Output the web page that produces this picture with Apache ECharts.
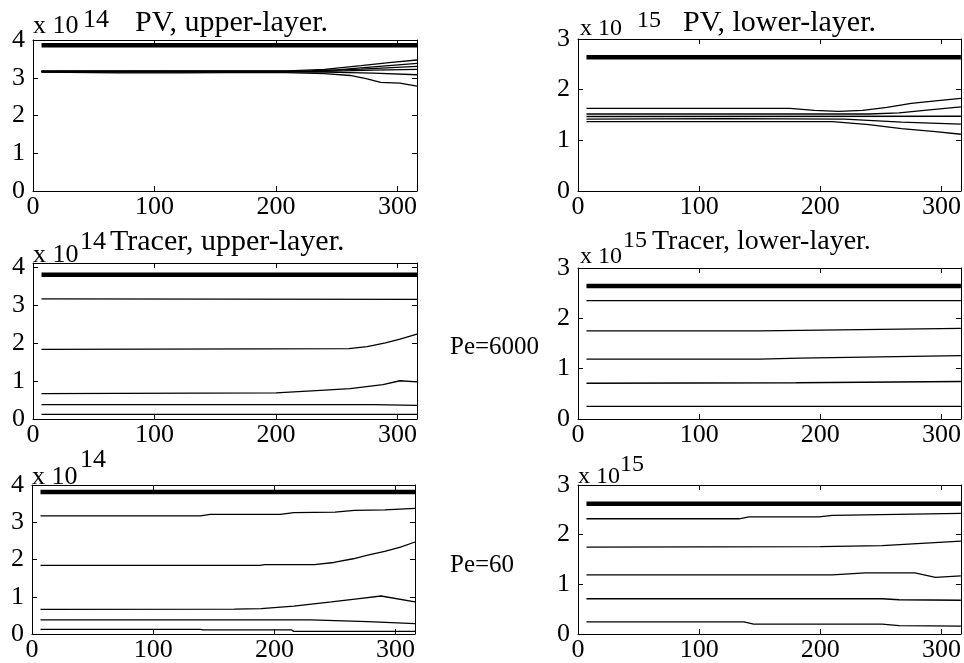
<!DOCTYPE html>
<html>
<head>
<meta charset="utf-8">
<script src="https://cdn.jsdelivr.net/npm/echarts@6/dist/echarts.min.js"></script>
<style>
html,body{margin:0;padding:0;background:#fff;}
#c{width:964px;height:663px;}
</style>
</head>
<body>
<div id="c"></div>
<script>
// ---------- data (x = time, y in units of 10^14 / 10^15) ----------
const xTicks = [0, 100, 200, 300];
const yTicksUpper = [0, 1, 2, 3, 4];
const yTicksLower = [0, 1, 2, 3];

// Panel 1: PV, upper-layer (x 10^14)
const pvUpperThick = [[7,3.86],[316,3.86]];
const pvUpper1 = [[7,3.18],[210,3.18],[240,3.22],[270,3.32],[295,3.41],[316,3.47]];
const pvUpper2 = [[7,3.17],[220,3.17],[250,3.21],[280,3.29],[316,3.38]];
const pvUpper3 = [[7,3.17],[230,3.18],[270,3.23],[316,3.30]];
const pvUpper4 = [[7,3.16],[240,3.17],[280,3.20],[316,3.22]];
const pvUpper5 = [[7,3.15],[240,3.15],[280,3.12],[316,3.08]];
const pvUpper6 = [[7,3.15],[70,3.13],[120,3.13],[200,3.14],[240,3.11],[261,3.06],[275,2.97],[286,2.88],[302,2.86],[316,2.78]];

// Panel 2: PV, lower-layer (x 10^15)
const pvLowerThick = [[7,2.64],[316,2.64]];
const pvLower1 = [[7,1.63],[175,1.63],[195,1.59],[215,1.57],[235,1.59],[255,1.65],[275,1.73],[295,1.78],[316,1.83]];
const pvLower2 = [[7,1.52],[240,1.52],[265,1.54],[290,1.60],[316,1.66]];
const pvLower3 = [[7,1.47],[316,1.475]];
const pvLower4 = [[7,1.42],[120,1.43],[220,1.42],[267,1.36],[316,1.32]];
const pvLower5 = [[7,1.37],[210,1.37],[240,1.31],[267,1.23],[295,1.17],[316,1.12]];

// Panel 3: Tracer, upper-layer, Pe=6000 (x 10^14)
const trUpperThick = [[7,3.81],[316,3.81]];
const trUpper1 = [[7,3.17],[316,3.16]];
const trUpper2 = [[7,1.84],[190,1.85],[260,1.86],[275,1.91],[290,2.01],[302,2.11],[316,2.24]];
const trUpper3 = [[7,0.67],[200,0.69],[233,0.75],[261,0.80],[288,0.91],[302,1.01],[316,0.98]];
const trUpper4 = [[7,0.38],[280,0.38],[316,0.36]];
const trUpper5 = [[7,0.12],[316,0.12]];

// Panel 4: Tracer, lower-layer, Pe=6000 (x 10^15)
const trLowerThick = [[7,2.64],[316,2.64]];
const trLower1 = [[7,2.35],[316,2.35]];
const trLower2 = [[7,1.75],[150,1.75],[316,1.80]];
const trLower3 = [[7,1.19],[150,1.19],[183,1.21],[316,1.26]];
const trLower4 = [[7,0.71],[180,0.72],[316,0.745]];
const trLower5 = [[7,0.25],[316,0.25]];

// Panel 5: upper-layer, Pe=60 (x 10^14)
const up60Thick = [[7,3.81],[316,3.81]];
const up60_1 = [[7,3.17],[139,3.17],[147,3.21],[205,3.21],[216,3.26],[250,3.27],[266,3.32],[291,3.33],[316,3.37]];
const up60_2 = [[7,1.84],[188,1.84],[192,1.86],[233,1.86],[249,1.92],[265,2.02],[277,2.12],[291,2.22],[304,2.33],[316,2.47]];
const up60_3 = [[7,0.66],[167,0.67],[189,0.68],[216,0.75],[247,0.86],[270,0.95],[288,1.02],[316,0.86]];
const up60_4 = [[7,0.38],[230,0.38],[277,0.33],[316,0.28]];
const up60_5 = [[7,0.125],[139,0.125],[141,0.11],[214,0.11],[216,0.07],[316,0.07]];

// Panel 6: lower-layer, Pe=60 (x 10^15)
const lo60Thick = [[7,2.62],[316,2.62]];
const lo60_1 = [[7,2.32],[133,2.32],[141,2.36],[199,2.36],[210,2.39],[316,2.43]];
const lo60_2 = [[7,1.75],[200,1.76],[251,1.78],[316,1.87]];
const lo60_3 = [[7,1.19],[210,1.19],[237,1.23],[278,1.23],[295,1.14],[316,1.17]];
const lo60_4 = [[7,0.71],[251,0.71],[265,0.69],[316,0.68]];
const lo60_5 = [[7,0.245],[137,0.245],[145,0.20],[251,0.20],[265,0.17],[316,0.16]];

const panels = [
  {thick: pvUpperThick, thin: [pvUpper1,pvUpper2,pvUpper3,pvUpper4,pvUpper5,pvUpper6], ymax: 4, ticks: yTicksUpper},
  {thick: pvLowerThick, thin: [pvLower1,pvLower2,pvLower3,pvLower4,pvLower5], ymax: 3, ticks: yTicksLower},
  {thick: trUpperThick, thin: [trUpper1,trUpper2,trUpper3,trUpper4,trUpper5], ymax: 4.12, ticks: yTicksUpper},
  {thick: trLowerThick, thin: [trLower1,trLower2,trLower3,trLower4,trLower5], ymax: 3, ticks: yTicksLower},
  {thick: up60Thick, thin: [up60_1,up60_2,up60_3,up60_4,up60_5], ymax: 4, ticks: yTicksUpper},
  {thick: lo60Thick, thin: [lo60_1,lo60_2,lo60_3,lo60_4,lo60_5], ymax: 3, ticks: yTicksLower}
];

// ---------- layout ----------
const grids = [
  {left: 33, top: 40, width: 384, height: 151},
  {left: 578, top: 39, width: 385, height: 152},
  {left: 33, top: 263, width: 384, height: 156},
  {left: 578, top: 268, width: 385, height: 151},
  {left: 32, top: 485, width: 383, height: 152},
  {left: 578, top: 485, width: 385, height: 152}
];

const FONT = '"Liberation Serif", "DejaVu Serif", serif';
const lineBlack = {color: '#000', width: 1};

const xAxes = [], yAxes = [], series = [];
panels.forEach((p, g) => {
  const xb = {
    gridIndex: g, type: 'value', min: 0, max: 316, interval: 100,
    axisLine: {show: true, onZero: false, lineStyle: lineBlack},
    axisTick: {show: true, inside: true, length: 5, lineStyle: lineBlack},
    axisLabel: {show: true, color: '#000', fontFamily: FONT, fontSize: 26, margin: 3,
      formatter: v => xTicks.includes(v) ? String(v) : ''},
    splitLine: {show: false}
  };
  const xt = Object.assign({}, xb, {position: 'top', axisLabel: {show: false}});
  const yl = {
    gridIndex: g, type: 'value', min: 0, max: p.ymax, interval: 1,
    axisLine: {show: true, onZero: false, lineStyle: lineBlack},
    axisTick: {show: true, inside: true, length: 5, lineStyle: lineBlack},
    axisLabel: {show: true, color: '#000', fontFamily: FONT, fontSize: 26, margin: 8,
      formatter: v => p.ticks.includes(v) ? String(v) : ''},
    splitLine: {show: false}
  };
  const yr = Object.assign({}, yl, {position: 'right', axisLabel: {show: false}});
  xAxes.push(xb, xt);
  yAxes.push(yl, yr);
  const xi = 2 * g, yi = 2 * g;
  series.push({type: 'line', xAxisIndex: xi, yAxisIndex: yi, data: p.thick,
    showSymbol: false, symbol: 'none', lineStyle: {color: '#000', width: 4.5}, silent: true});
  p.thin.forEach(d => series.push({type: 'line', xAxisIndex: xi, yAxisIndex: yi, data: d,
    showSymbol: false, symbol: 'none', lineStyle: {color: '#000', width: 1.3}, silent: true}));
});

function txt(s, x, y, size) {
  return {type: 'text', x: x, y: y, style: {text: s, fill: '#000',
    font: size + 'px ' + FONT, textAlign: 'left', textVerticalAlign: 'middle'}};
}

const graphics = [
  txt('x 10', 33, 26, 26), txt('14', 83, 20, 26), txt('PV, upper-layer.', 135, 23, 30),
  txt('x 10', 580, 29, 24), txt('15', 637, 21, 24), txt('PV, lower-layer.', 683, 23, 30),
  txt('x 10', 33, 255, 26), txt('14', 80, 242, 26), txt('Tracer, upper-layer.', 110, 242, 30),
  txt('x 10', 580, 257, 24), txt('15', 623, 241, 24), txt('Tracer, lower-layer.', 652, 242, 28),
  txt('x 10', 32, 477, 26), txt('14', 80, 460, 26),
  txt('x 10', 578, 477, 24), txt('15', 620, 465, 24),
  txt('Pe=6000', 450, 347, 25),
  txt('Pe=60', 450, 565, 25)
];

const chart = echarts.init(document.getElementById('c'), null, {renderer: 'canvas'});
chart.setOption({
  animation: false,
  backgroundColor: '#fff',
  grid: grids,
  xAxis: xAxes,
  yAxis: yAxes,
  series: series,
  graphic: graphics
});
</script>
</body>
</html>
